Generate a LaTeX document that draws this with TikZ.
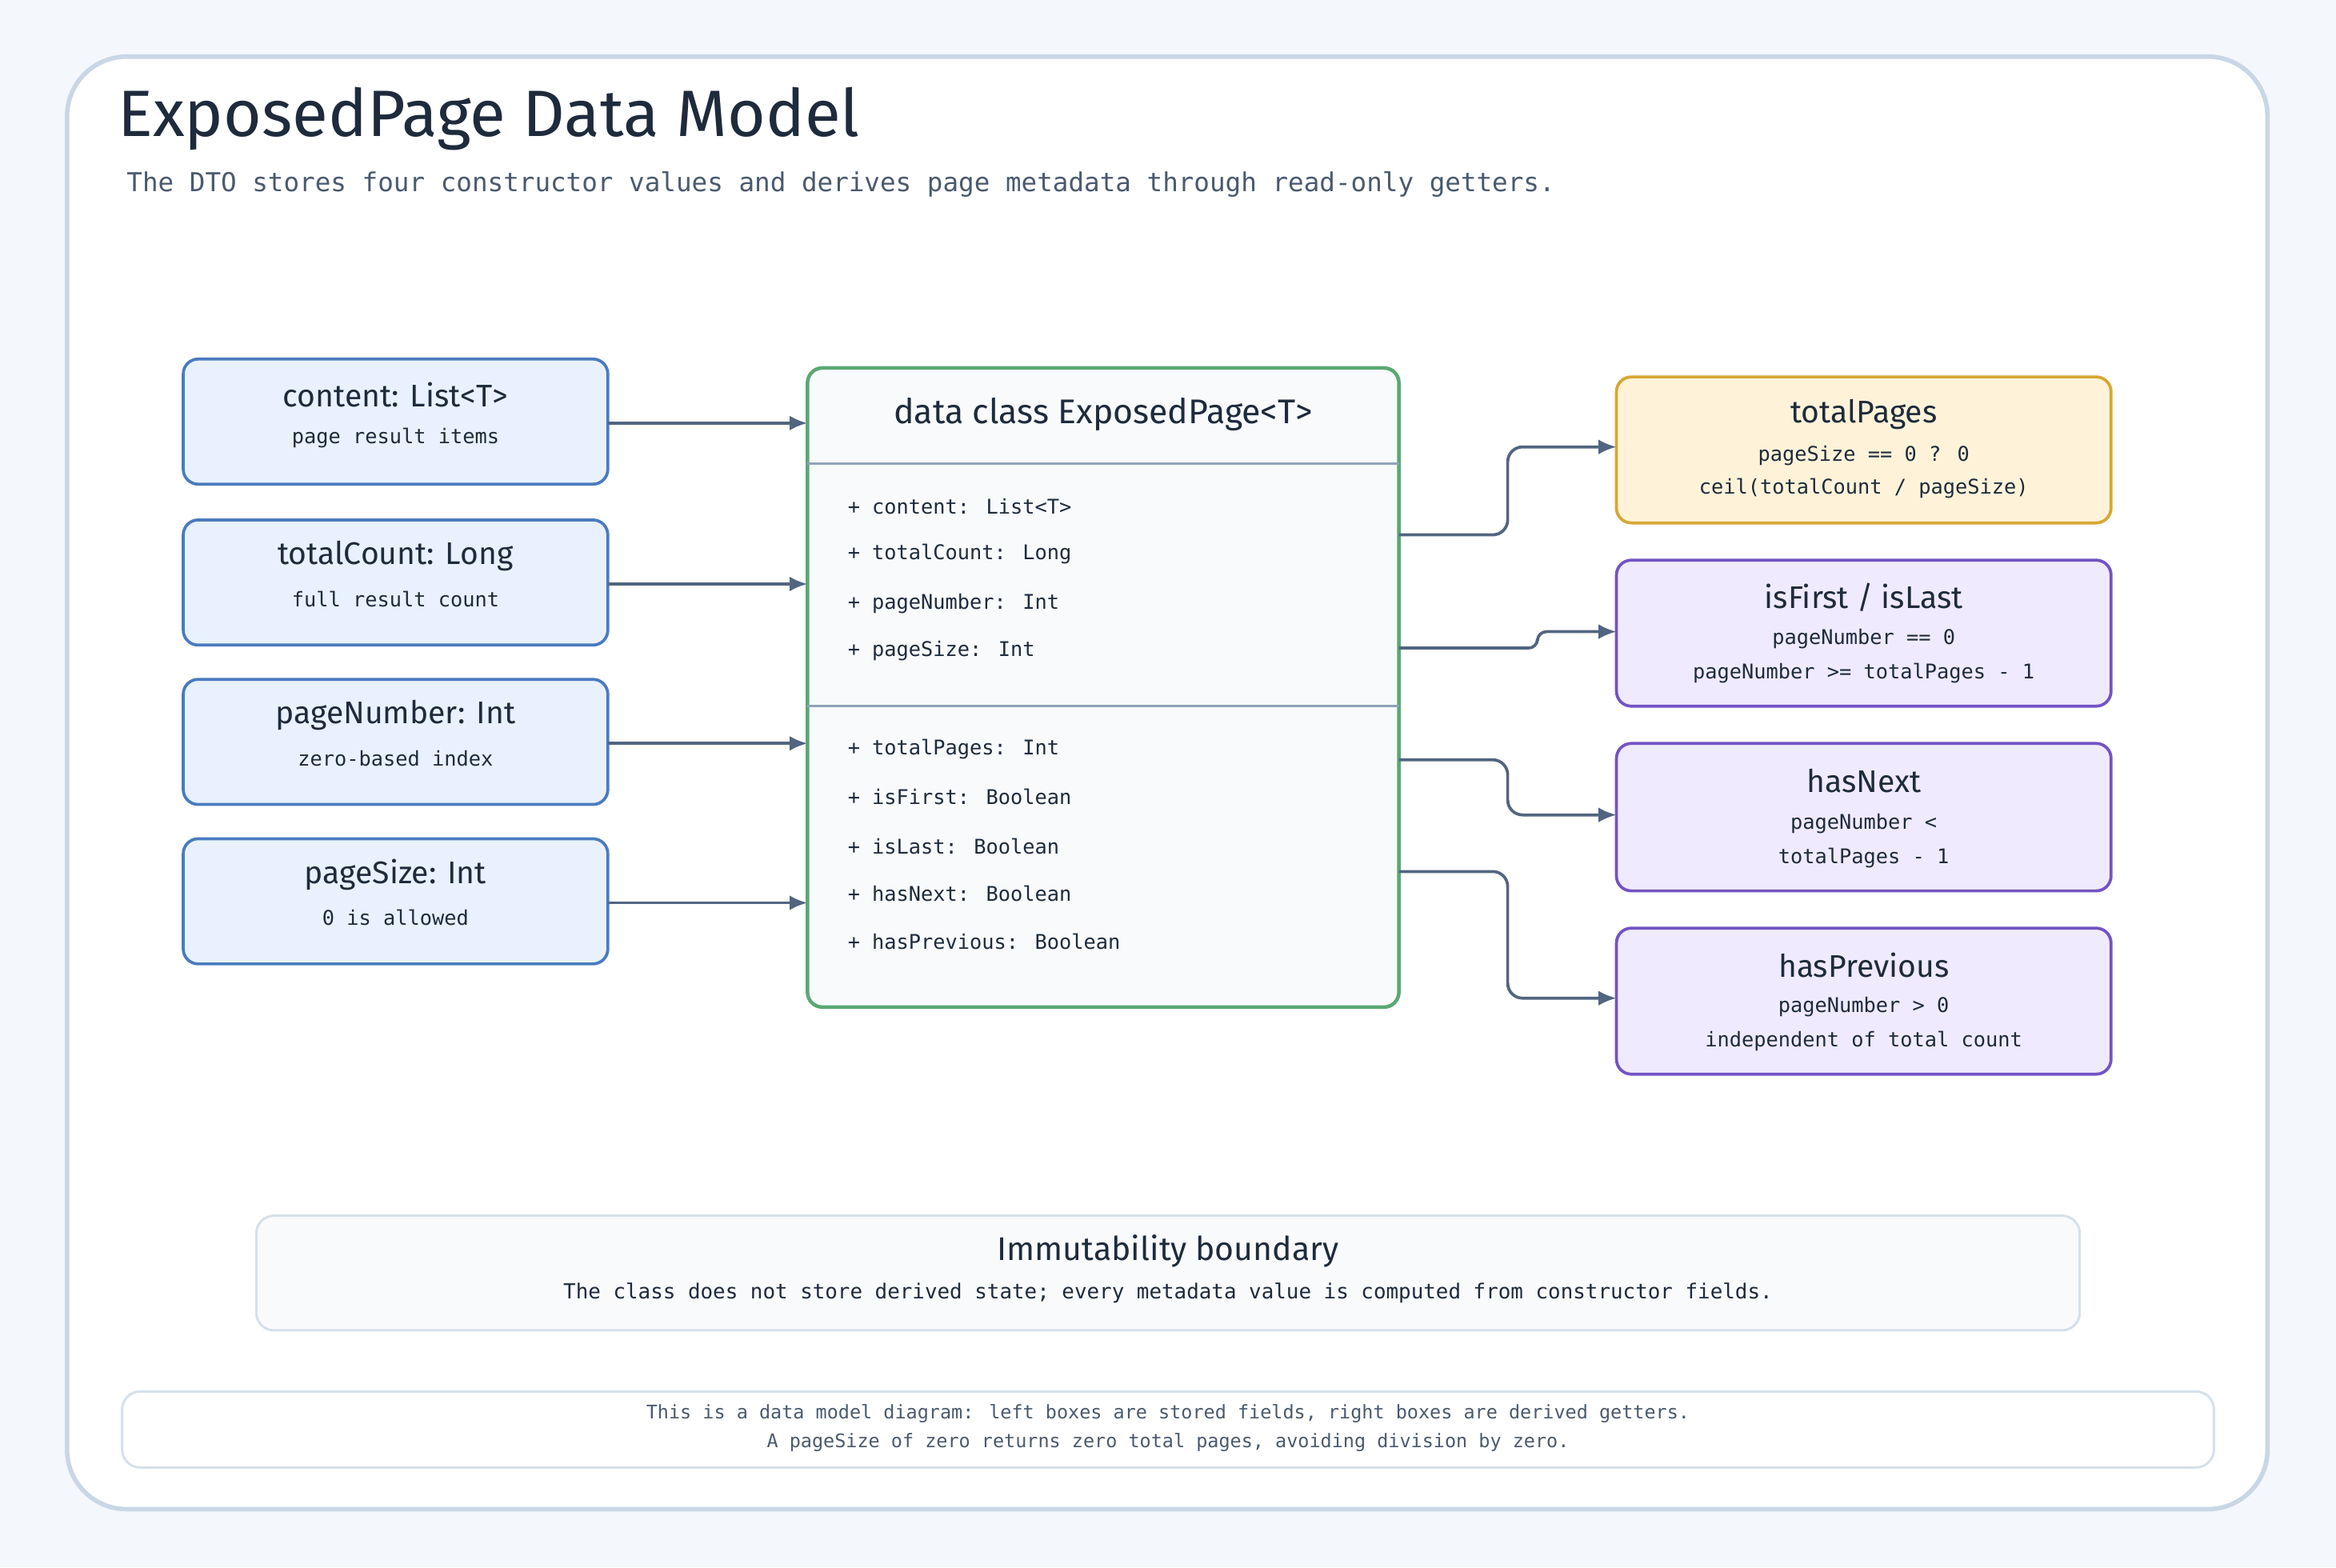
\documentclass[tikz,border=0pt]{standalone}
\usepackage{fontspec}
\setmainfont{Fira Sans}
\newfontfamily\mono{DejaVu Sans Mono}
\usetikzlibrary{arrows.meta}
\definecolor{bg}{HTML}{F4F7FB}
\definecolor{frame}{HTML}{C9D6E6}
\definecolor{ink}{HTML}{1E2B3C}
\definecolor{sub}{HTML}{4A5A6E}
\definecolor{arr}{HTML}{526580}
\definecolor{lfill}{HTML}{E8F1FD}\definecolor{ldraw}{HTML}{4A7BBF}
\definecolor{ofill}{HTML}{FEF3D9}\definecolor{odraw}{HTML}{D9A634}
\definecolor{pfill}{HTML}{EFEAFD}\definecolor{pdraw}{HTML}{7353C4}
\definecolor{gdraw}{HTML}{5AA874}\definecolor{cfill}{HTML}{F8FAFC}
\definecolor{ldiv}{HTML}{8FA3B8}\definecolor{soft}{HTML}{D6E0EA}
\tikzset{
 box/.style={rounded corners=5pt,line width=1pt},
 lbox/.style={box,fill=lfill,draw=ldraw},
 obox/.style={box,fill=ofill,draw=odraw},
 pbox/.style={box,fill=pfill,draw=pdraw},
 ttl/.style={font=\fontsize{10.5}{12}\selectfont,text=ink},
 mt/.style={font=\mono\fontsize{6.8}{9}\selectfont,text=ink},
 fld/.style={font=\mono\fontsize{6.8}{9}\selectfont,text=ink,anchor=west},
 con/.style={draw=arr,line width=1pt,-{Latex[length=6pt,width=5pt]},rounded corners=5pt},
}
\begin{document}
\begin{tikzpicture}[x=0.5pt,y=-0.5pt]
\fill[bg] (0,0) rectangle (1568,1052);
\draw[frame,line width=1.5pt,fill=white,rounded corners=20pt] (45,38) rectangle (1522,1013);
\node[anchor=west,font=\fontsize{22}{26}\selectfont,text=ink] (title) at (72,80) {ExposedPage Data Model};
\node[anchor=west,font=\mono\fontsize{8.75}{11}\selectfont,text=sub] (subt) at (78,124) {The DTO stores four constructor values and derives page metadata through read-only getters.};
% left boxes
\foreach \n/\y/\t/\s in {a/241/content: List<T>/page result items, b/349/totalCount: Long/full result count, c/456/pageNumber: Int/zero-based index, d/563/pageSize: Int/0 is allowed}{
 \draw[lbox] (123,\y) rectangle (408,\y+84);
 \node[ttl] at (265.5,\y+24) {\t};
 \node[mt] at (265.5,\y+53) {\s};
 \coordinate (\n) at (408,\y+43);
 \coordinate (\n t) at (542,\y+43);
 \draw[con] (\n) -- (\n t);
}
% center
\draw[box,draw=gdraw,fill=cfill,line width=1.2pt] (542,247) rectangle (939,676);
\node[ttl,font=\fontsize{11.5}{13}\selectfont] (ct) at (740.5,278) {data class ExposedPage<T>};
\draw[ldiv,line width=0.8pt] (542,311) -- (939,311);
\draw[ldiv,line width=0.8pt] (542,474) -- (939,474);
\node[fld] (f1) at (562,340) {+ content: List<T>};
\node[fld] (f2) at (562,372) {+ totalCount: Long};
\node[fld] (f3) at (562,405) {+ pageNumber: Int};
\node[fld] (f4) at (562,437) {+ pageSize: Int};
\node[fld] (g1) at (562,503) {+ totalPages: Int};
\node[fld] (g2) at (562,535) {+ isFirst: Boolean};
\node[fld] (g3) at (562,568) {+ isLast: Boolean};
\node[fld] (g4) at (562,600) {+ hasNext: Boolean};
\node[fld] (g5) at (562,632) {+ hasPrevious: Boolean};
% right boxes
\draw[obox] (1085,253) rectangle (1417,351);
\node[ttl] (r1) at (1251,278) {totalPages};
\node[mt] at (1251,306) {pageSize == 0 ? 0};
\node[mt] at (1251,328) {ceil(totalCount / pageSize)};
\draw[pbox] (1085,376) rectangle (1417,474);
\node[ttl] (r2) at (1251,401) {isFirst / isLast};
\node[mt] at (1251,429) {pageNumber == 0};
\node[mt] at (1251,452) {pageNumber >= totalPages - 1};
\draw[pbox] (1085,499) rectangle (1417,598);
\node[ttl] (r3) at (1251,524) {hasNext};
\node[mt] at (1251,553) {pageNumber <};
\node[mt] at (1251,576) {totalPages - 1};
\draw[pbox] (1085,623) rectangle (1417,721);
\node[ttl] (r4) at (1251,648) {hasPrevious};
\node[mt] at (1251,676) {pageNumber > 0};
\node[mt] at (1251,699) {independent of total count};
\coordinate (s1) at (939,359); \coordinate (e1) at (1085,300);
\coordinate (s2) at (939,435); \coordinate (e2) at (1085,424);
\coordinate (s3) at (939,510); \coordinate (e3) at (1085,547);
\coordinate (s4) at (939,585); \coordinate (e4) at (1085,670);
\draw[con] (s1) -- (1012,359) -- (1012,300) -- (e1);
\draw[con,rounded corners=3pt] (s2) -- (1032,435) -- (1032,424) -- (e2);
\draw[con] (s3) -- (1012,510) -- (1012,547) -- (e3);
\draw[con] (s4) -- (1012,585) -- (1012,670) -- (e4);
% immutability
\draw[rounded corners=6pt,fill=cfill,draw=soft,line width=0.8pt] (172,816) rectangle (1396,893);
\node[ttl,font=\fontsize{11}{13}\selectfont] (im) at (784,840) {Immutability boundary};
\node[mt,font=\mono\fontsize{6.95}{9}\selectfont] (imt) at (784,868) {The class does not store derived state; every metadata value is computed from constructor fields.};
% footer
\draw[rounded corners=6pt,fill=white,draw=soft,line width=0.8pt] (82,934) rectangle (1486,985);
\node[font=\mono\fontsize{6.3}{8}\selectfont,text=sub] (ft1) at (784,949) {This is a data model diagram: left boxes are stored fields, right boxes are derived getters.};
\node[font=\mono\fontsize{6.3}{8}\selectfont,text=sub] (ft2) at (784,968) {A pageSize of zero returns zero total pages, avoiding division by zero.};
\end{tikzpicture}
\end{document}
